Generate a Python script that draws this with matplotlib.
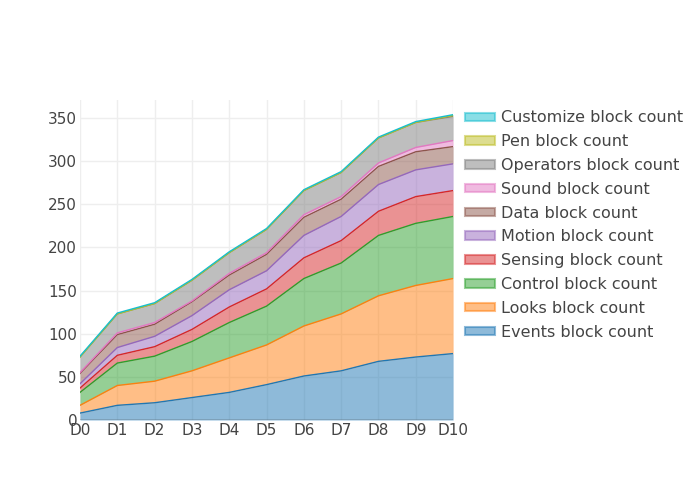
import matplotlib
matplotlib.use("Agg")
import matplotlib.pyplot as plt
import numpy as np
from matplotlib.patches import Patch

days = ["D0", "D1", "D2", "D3", "D4", "D5", "D6", "D7", "D8", "D9", "D10"]
events = [8, 17, 20, 26, 32, 41, 51, 57, 68, 73, 77]
looks = [9, 23, 25, 31, 40, 46, 58, 66, 76, 83, 87]
control = [15, 26, 29, 34, 41, 45, 55, 59, 70, 72, 72]
sensing = [5, 9, 11, 14, 18, 20, 24, 26, 28, 31, 30]
motion = [5, 9, 12, 16, 20, 21, 26, 28, 31, 31, 31]
data = [12, 15, 14, 16, 17, 19, 21, 20, 21, 21, 20]
sound = [1, 2, 2, 1, 2, 2, 3, 3, 4, 5, 7]
operators = [18, 22, 22, 24, 24, 27, 28, 28, 29, 29, 28]
pen = [0, 0, 0, 0, 0, 0, 0, 0, 0, 0, 1]
customize = [1, 1, 1, 1, 1, 1, 1, 1, 1, 1, 1]

names = ["Events block count", "Looks block count", "Control block count",
         "Sensing block count", "Motion block count", "Data block count",
         "Sound block count", "Operators block count", "Pen block count",
         "Customize block count"]
series = [events, looks, control, sensing, motion, data, sound, operators, pen, customize]
colors = ["#1f77b4", "#ff7f0e", "#2ca02c", "#d62728", "#9467bd",
          "#8c564b", "#e377c2", "#7f7f7f", "#bcbd22", "#17becf"]

plt.rcParams['font.family'] = ['DejaVu Sans']
fig = plt.figure(figsize=(7, 5), dpi=100)
ax = fig.add_axes([0.1143, 0.16, 0.533, 0.64])

x = np.arange(len(days))
arr = np.array(series, dtype=float)
cum = np.cumsum(arr, axis=0)
lower = np.zeros(len(days))
for i in range(len(series)):
    ax.fill_between(x, lower, cum[i], color=colors[i], alpha=0.5, linewidth=0, zorder=2)
    ax.plot(x, cum[i], color=colors[i], linewidth=1, zorder=3)
    lower = cum[i]

ax.set_xlim(0, len(days) - 1)
ax.set_ylim(0, 371)
ax.set_xticks(x)
ax.set_xticklabels(days)
ax.set_yticks(np.arange(0, 351, 50))
ax.grid(True, color="#eeeeee", linewidth=1, zorder=0)
ax.set_axisbelow(True)
for s in ax.spines.values():
    s.set_visible(False)
ax.axhline(0, color="#444444", linewidth=1, zorder=4)
ax.tick_params(length=0, labelsize=11, labelcolor="#444444", pad=2)

handles = [Patch(facecolor=colors[i], edgecolor=colors[i], alpha=0.5, linewidth=1.5)
           for i in range(len(series))][::-1]
labels = names[::-1]
fig.legend(handles, labels, loc="upper left", bbox_to_anchor=(0.664, 0.779),
           frameon=False, fontsize=11.5, labelcolor="#444444",
           handlelength=1.9, handleheight=0.45, handletextpad=0.35,
           labelspacing=0.55, borderaxespad=0, borderpad=0)

fig.savefig("out.png", dpi=100)
